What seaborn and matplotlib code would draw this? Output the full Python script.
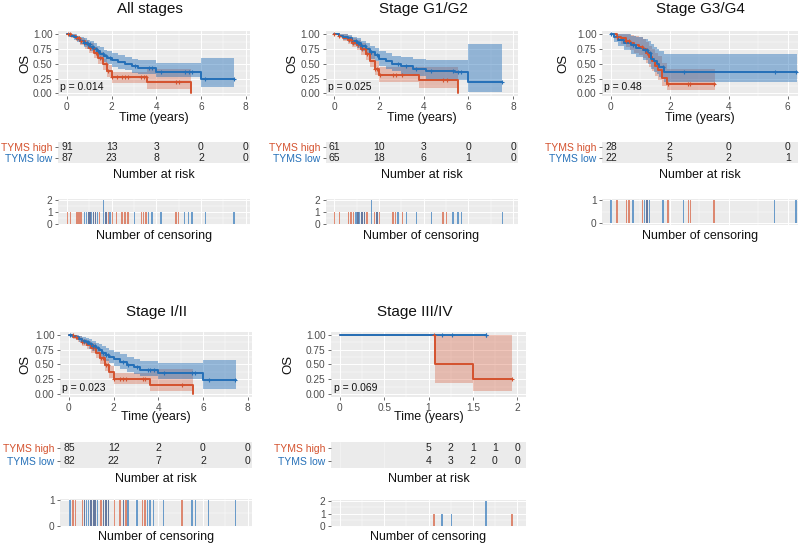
import numpy as np
import matplotlib
matplotlib.use("Agg")
import matplotlib.pyplot as plt
import seaborn as sns
from matplotlib.ticker import MultipleLocator

# ---------------- DATA ----------------
GROUPS = ["TYMS high", "TYMS low"]
TITLES = ["All stages", "Stage G1/G2", "Stage G3/G4", "Stage I/II", "Stage III/IV"]
PVALUES = ["p = 0.014", "p = 0.025", "p = 0.48", "p = 0.023", "p = 0.069"]

# All stages
ALL_T_LOW = [0, 0.15, 0.3, 0.45, 0.6, 0.75, 0.9, 1.05, 1.2, 1.35, 1.5, 1.65, 1.8, 2.0, 2.3, 2.6, 2.9, 3.2, 4.0, 6.0, 7.5]
ALL_S_LOW = [1.0, 0.98, 0.95, 0.92, 0.89, 0.86, 0.83, 0.79, 0.75, 0.71, 0.67, 0.63, 0.60, 0.56, 0.53, 0.50, 0.46, 0.43, 0.37, 0.25, 0.25]
ALL_LO_LOW = [1.0, 0.95, 0.91, 0.87, 0.83, 0.79, 0.75, 0.71, 0.66, 0.62, 0.57, 0.53, 0.50, 0.45, 0.42, 0.39, 0.35, 0.32, 0.27, 0.10, 0.10]
ALL_HI_LOW = [1.0, 1.0, 1.0, 0.98, 0.96, 0.93, 0.91, 0.88, 0.85, 0.81, 0.78, 0.74, 0.71, 0.68, 0.65, 0.62, 0.59, 0.56, 0.52, 0.60, 0.60]
ALL_T_HIGH = [0, 0.2, 0.4, 0.6, 0.8, 1.0, 1.2, 1.4, 1.6, 1.8, 2.0, 3.6, 5.55]
ALL_S_HIGH = [1.0, 0.97, 0.93, 0.88, 0.83, 0.77, 0.69, 0.60, 0.49, 0.38, 0.27, 0.19, 0.0]
ALL_LO_HIGH = [1.0, 0.94, 0.88, 0.82, 0.76, 0.69, 0.60, 0.50, 0.39, 0.28, 0.18, 0.08, 0.0]
ALL_HI_HIGH = [1.0, 1.0, 0.98, 0.94, 0.90, 0.85, 0.78, 0.70, 0.59, 0.48, 0.37, 0.42, 0.0]
ALL_CENS_HIGH = [0.03, 0.15, 0.45, 0.54, 0.63, 0.96, 1.03, 1.18, 1.29, 1.47, 1.74, 1.86, 2.04, 2.23, 2.46, 2.61, 2.73, 3.33, 3.43, 3.54, 4.88, 5.0]
ALL_CENS_LOW = [0.78, 0.88, 0.96, 1.03, 1.11, 1.18, 1.29, 1.38, 1.63, 1.63, 1.74, 1.93, 3.03, 3.66, 3.81, 4.22, 5.27, 5.45, 5.6, 6.2, 7.48]
ALL_RISK_T = [0, 2, 4, 6, 8]
ALL_RISK_HIGH = [91, 13, 3, 0, 0]
ALL_RISK_LOW = [87, 23, 8, 2, 0]

# Stage G1/G2
G12_T_LOW = [0, 0.2, 0.4, 0.6, 0.8, 1.0, 1.2, 1.4, 1.6, 1.8, 2.0, 2.3, 2.6, 3.0, 3.5, 4.1, 5.4, 6.0, 7.5]
G12_S_LOW = [1.0, 0.98, 0.96, 0.93, 0.89, 0.85, 0.80, 0.75, 0.70, 0.65, 0.58, 0.54, 0.50, 0.46, 0.42, 0.38, 0.36, 0.19, 0.19]
G12_LO_LOW = [1.0, 0.95, 0.91, 0.87, 0.82, 0.77, 0.71, 0.65, 0.59, 0.54, 0.46, 0.42, 0.38, 0.33, 0.29, 0.24, 0.22, 0.03, 0.03]
G12_HI_LOW = [1.0, 1.0, 1.0, 0.99, 0.96, 0.93, 0.89, 0.85, 0.81, 0.77, 0.71, 0.68, 0.64, 0.61, 0.58, 0.56, 0.57, 0.83, 0.83]
G12_T_HIGH = [0, 0.2, 0.4, 0.6, 0.8, 1.0, 1.2, 1.4, 1.6, 1.8, 2.0, 3.8, 5.55]
G12_S_HIGH = [1.0, 0.97, 0.94, 0.90, 0.86, 0.82, 0.75, 0.67, 0.55, 0.42, 0.31, 0.22, 0.0]
G12_LO_HIGH = [1.0, 0.93, 0.88, 0.83, 0.78, 0.73, 0.65, 0.56, 0.44, 0.31, 0.20, 0.09, 0.0]
G12_HI_HIGH = [1.0, 1.0, 1.0, 0.97, 0.94, 0.91, 0.86, 0.79, 0.68, 0.55, 0.44, 0.45, 0.0]
G12_CENS_HIGH = [0.0, 0.22, 0.64, 0.75, 0.85, 1.06, 1.24, 1.35, 1.45, 1.8, 1.9, 2.02, 2.62, 2.74, 3.04, 4.87, 5.02]
G12_CENS_LOW = [0.97, 1.06, 1.12, 1.24, 1.35, 1.66, 1.66, 1.9, 2.85, 3.22, 3.67, 4.34, 5.32, 5.54, 5.69, 7.52]
G12_RISK_T = [0, 2, 4, 6, 8]
G12_RISK_HIGH = [61, 10, 3, 0, 0]
G12_RISK_LOW = [65, 18, 6, 1, 0]

# Stage G3/G4
G34_T_LOW = [0, 0.1, 0.25, 0.45, 0.7, 0.85, 1.1, 1.25, 1.35, 1.45, 1.55, 1.65, 1.8, 6.3]
G34_S_LOW = [1.0, 0.95, 0.91, 0.86, 0.82, 0.77, 0.73, 0.68, 0.59, 0.55, 0.50, 0.45, 0.37, 0.37]
G34_LO_LOW = [1.0, 0.87, 0.80, 0.73, 0.67, 0.61, 0.56, 0.50, 0.41, 0.37, 0.32, 0.27, 0.19, 0.19]
G34_HI_LOW = [1.0, 1.0, 1.0, 1.0, 0.98, 0.95, 0.92, 0.89, 0.83, 0.79, 0.76, 0.72, 0.67, 0.67]
G34_T_HIGH = [0, 0.2, 0.35, 0.5, 0.65, 0.8, 0.95, 1.1, 1.2, 1.3, 1.4, 1.5, 1.6, 1.75, 1.9, 3.55]
G34_S_HIGH = [1.0, 0.96, 0.93, 0.89, 0.86, 0.82, 0.79, 0.75, 0.68, 0.61, 0.54, 0.46, 0.39, 0.26, 0.15, 0.15]
G34_LO_HIGH = [1.0, 0.89, 0.84, 0.78, 0.74, 0.69, 0.65, 0.60, 0.52, 0.45, 0.38, 0.30, 0.23, 0.13, 0.06, 0.06]
G34_HI_HIGH = [1.0, 1.0, 1.0, 1.0, 0.99, 0.97, 0.95, 0.92, 0.87, 0.81, 0.75, 0.69, 0.63, 0.52, 0.41, 0.41]
G34_CENS_HIGH = [0.21, 0.53, 0.61, 1.07, 1.23, 1.94, 2.63, 2.7, 3.5]
G34_CENS_LOW = [0.0, 0.76, 1.15, 1.23, 1.32, 1.77, 2.47, 5.56, 6.29]
G34_RISK_T = [0, 2, 4, 6]
G34_RISK_HIGH = [28, 2, 0, 0]
G34_RISK_LOW = [22, 5, 2, 1]

# Stage I/II
S12_T_LOW = [0, 0.15, 0.3, 0.45, 0.6, 0.75, 0.9, 1.05, 1.2, 1.35, 1.5, 1.65, 1.8, 2.0, 2.3, 2.6, 2.9, 3.2, 4.0, 6.0, 7.5]
S12_S_LOW = [1.0, 0.98, 0.96, 0.93, 0.90, 0.88, 0.85, 0.81, 0.78, 0.74, 0.70, 0.66, 0.63, 0.59, 0.54, 0.49, 0.45, 0.41, 0.36, 0.23, 0.23]
S12_LO_LOW = [1.0, 0.95, 0.92, 0.88, 0.84, 0.81, 0.77, 0.73, 0.69, 0.65, 0.60, 0.56, 0.52, 0.48, 0.43, 0.38, 0.34, 0.30, 0.25, 0.08, 0.08]
S12_HI_LOW = [1.0, 1.0, 1.0, 0.99, 0.97, 0.95, 0.93, 0.90, 0.87, 0.84, 0.81, 0.78, 0.75, 0.71, 0.67, 0.62, 0.59, 0.56, 0.53, 0.57, 0.57]
S12_T_HIGH = [0, 0.2, 0.4, 0.6, 0.8, 1.0, 1.2, 1.4, 1.6, 1.8, 2.0, 3.65, 5.55]
S12_S_HIGH = [1.0, 0.97, 0.93, 0.88, 0.83, 0.78, 0.70, 0.61, 0.49, 0.38, 0.26, 0.16, 0.0]
S12_LO_HIGH = [1.0, 0.94, 0.88, 0.82, 0.76, 0.70, 0.61, 0.51, 0.39, 0.28, 0.17, 0.06, 0.0]
S12_HI_HIGH = [1.0, 1.0, 0.98, 0.94, 0.90, 0.86, 0.79, 0.71, 0.59, 0.48, 0.36, 0.42, 0.0]
S12_CENS_HIGH = [0.19, 0.3, 0.6, 0.69, 0.99, 1.09, 1.17, 1.44, 1.54, 1.65, 1.77, 2.04, 2.29, 2.44, 2.55, 3.3, 3.41, 5.06]
S12_CENS_LOW = [0.04, 0.69, 0.79, 0.87, 0.99, 1.09, 1.17, 1.29, 1.54, 1.65, 1.77, 2.44, 2.64, 3.04, 3.53, 3.64, 3.79, 4.24, 5.51, 5.66, 6.26, 7.46]
S12_RISK_T = [0, 2, 4, 6, 8]
S12_RISK_HIGH = [85, 12, 2, 0, 0]
S12_RISK_LOW = [82, 22, 7, 2, 0]

# Stage III/IV
S34_T_LOW = [0, 1.65]
S34_S_LOW = [1.0, 1.0]
S34_LO_LOW = [1.0, 1.0]
S34_HI_LOW = [1.0, 1.0]
S34_T_HIGH = [0, 1.07, 1.5, 1.94]
S34_S_HIGH = [1.0, 0.5, 0.25, 0.25]
S34_LO_HIGH = [1.0, 0.18, 0.05, 0.05]
S34_HI_HIGH = [1.0, 1.0, 1.0, 1.0]
S34_CENS_HIGH = [1.06, 1.94]
S34_CENS_LOW = [1.15, 1.26, 1.65, 1.65]
S34_RISK_T = [1.0, 1.25, 1.5, 1.75, 2.0]
S34_RISK_HIGH = [5, 2, 1, 1, 0]
S34_RISK_LOW = [4, 3, 2, 0, 0]

# ---------------- STYLE ----------------
RED = "#D4522E"
BLUE = "#2570B8"
BG = "#EBEBEB"
W, H = 800, 547

sns.set_theme(style="darkgrid", rc={"axes.facecolor": BG, "grid.color": "white"})
plt.rcParams["font.family"] = ["Liberation Sans", "DejaVu Sans"]

fig = plt.figure(figsize=(8, 5.47), dpi=100)
fig.patch.set_facecolor("white")


def rect(x0, y0, x1, y1):
    return [x0 / W, 1 - y1 / H, (x1 - x0) / W, (y1 - y0) / H]


def ftext(x, y, s, **kw):
    fig.text(x / W, 1 - y / H, s, ha="center", va="center", **kw)


def style_axes(ax):
    for sp in ax.spines.values():
        sp.set_visible(False)
    ax.set_facecolor(BG)
    ax.tick_params(which="major", length=2.5, width=0.5, color="#333333",
                   labelsize=7.3, labelcolor="#4D4D4D", pad=1.5,
                   bottom=True, left=True)
    ax.tick_params(which="minor", length=0, bottom=False, left=False)
    ax.grid(which="major", color="white", lw=0.7)
    ax.grid(which="minor", color="white", lw=0.35)
    ax.set_axisbelow(True)
    ax.set_xlabel("")
    ax.set_ylabel("")


def step_value(t, s, c):
    t = np.asarray(t)
    idx = np.clip(np.searchsorted(t, c, side="right") - 1, 0, len(t) - 1)
    return np.asarray(s)[idx]


PANELS = [
    dict(title=TITLES[0], p=PVALUES[0],
         low=(ALL_T_LOW, ALL_S_LOW, ALL_LO_LOW, ALL_HI_LOW, ALL_CENS_LOW, ALL_RISK_LOW),
         high=(ALL_T_HIGH, ALL_S_HIGH, ALL_LO_HIGH, ALL_HI_HIGH, ALL_CENS_HIGH, ALL_RISK_HIGH),
         risk_t=ALL_RISK_T),
    dict(title=TITLES[1], p=PVALUES[1],
         low=(G12_T_LOW, G12_S_LOW, G12_LO_LOW, G12_HI_LOW, G12_CENS_LOW, G12_RISK_LOW),
         high=(G12_T_HIGH, G12_S_HIGH, G12_LO_HIGH, G12_HI_HIGH, G12_CENS_HIGH, G12_RISK_HIGH),
         risk_t=G12_RISK_T),
    dict(title=TITLES[2], p=PVALUES[2],
         low=(G34_T_LOW, G34_S_LOW, G34_LO_LOW, G34_HI_LOW, G34_CENS_LOW, G34_RISK_LOW),
         high=(G34_T_HIGH, G34_S_HIGH, G34_LO_HIGH, G34_HI_HIGH, G34_CENS_HIGH, G34_RISK_HIGH),
         risk_t=G34_RISK_T),
    dict(title=TITLES[3], p=PVALUES[3],
         low=(S12_T_LOW, S12_S_LOW, S12_LO_LOW, S12_HI_LOW, S12_CENS_LOW, S12_RISK_LOW),
         high=(S12_T_HIGH, S12_S_HIGH, S12_LO_HIGH, S12_HI_HIGH, S12_CENS_HIGH, S12_RISK_HIGH),
         risk_t=S12_RISK_T),
    dict(title=TITLES[4], p=PVALUES[4],
         low=(S34_T_LOW, S34_S_LOW, S34_LO_LOW, S34_HI_LOW, S34_CENS_LOW, S34_RISK_LOW),
         high=(S34_T_HIGH, S34_S_HIGH, S34_LO_HIGH, S34_HI_HIGH, S34_CENS_HIGH, S34_RISK_HIGH),
         risk_t=S34_RISK_T),
]

# layout (pixel geometry)
LAYOUT = [
    dict(x0=58, x1=250, km=(31.4, 96.3), risk=(142, 163), cens=(198.8, 225.2), cyl=(-0.1, 2.1), cyt=[0, 1, 2],
         xlim=(-0.4, 8.2), xt=[0, 2, 4, 6, 8], xtl=["0", "2", "4", "6", "8"], xminor=1.0,
         ttl=(150, 9), os_x=25, lab_y=(118, 175, 236), rly=(-0.45, 1.45)),
    dict(x0=325.5, x1=517.5, km=(31.4, 96.3), risk=(142, 163), cens=(198.8, 225.2), cyl=(-0.1, 2.1), cyt=[0, 1, 2],
         xlim=(-0.4, 8.2), xt=[0, 2, 4, 6, 8], xtl=["0", "2", "4", "6", "8"], xminor=1.0,
         ttl=(423, 9), os_x=292, lab_y=(118, 175, 236), rly=(-0.45, 1.45)),
    dict(x0=602, x1=798, km=(31.4, 96.3), risk=(142, 163), cens=(198.5, 224.5), cyl=(-0.05, 1.05), cyt=[0, 1],
         xlim=(-0.3, 6.35), xt=[0, 2, 4, 6], xtl=["0", "2", "4", "6"], xminor=1.0,
         ttl=(700, 9), os_x=563, lab_y=(118, 175, 236), rly=(-0.45, 1.45)),
    dict(x0=60, x1=252, km=(332, 397), risk=(442, 468), cens=(498.7, 527.3), cyl=(-0.05, 1.05), cyt=[0, 1],
         xlim=(-0.4, 8.2), xt=[0, 2, 4, 6, 8], xtl=["0", "2", "4", "6", "8"], xminor=1.0,
         ttl=(157, 312), os_x=25, lab_y=(417, 479, 537), rly=(-0.59, 1.51)),
    dict(x0=331, x1=526, km=(332, 397), risk=(442, 468), cens=(499.8, 527.2), cyl=(-0.1, 2.1), cyt=[0, 1, 2],
         xlim=(-0.1, 2.1), xt=[0, 0.5, 1, 1.5, 2], xtl=["0", "0.5", "1", "1.5", "2"], xminor=0.25,
         ttl=(415, 312), os_x=288, lab_y=(417, 479, 537), rly=(-0.59, 1.51)),
]

for d, L in zip(PANELS, LAYOUT):
    x0, x1 = L["x0"], L["x1"]
    xc = (x0 + x1) / 2
    px_per_unit = (x1 - x0) / (L["xlim"][1] - L["xlim"][0])

    # ---- KM plot ----
    ax = fig.add_axes(rect(x0, L["km"][0], x1, L["km"][1]))
    for key, col, a in (("high", RED, 0.32), ("low", BLUE, 0.45)):
        t, s, lo, hi, cens, _ = d[key]
        ax.fill_between(t, lo, hi, step="post", color=col, alpha=a, lw=0, zorder=2)
    for key, col in (("high", RED), ("low", BLUE)):
        t, s, lo, hi, cens, _ = d[key]
        sns.lineplot(x=t, y=s, ax=ax, color=col, lw=1.4, drawstyle="steps-post",
                     estimator=None, sort=False, zorder=3)
        cy = step_value(t, s, np.asarray(cens))
        ax.plot(cens, cy, ls="none", marker="+", ms=3, mew=0.8, color=col, zorder=4)
    ax.set_xlim(*L["xlim"])
    ax.set_ylim(-0.05, 1.05)
    ax.set_xticks(L["xt"])
    ax.set_xticklabels(L["xtl"])
    ax.set_yticks([0, 0.25, 0.5, 0.75, 1.0])
    ax.set_yticklabels(["0.00", "0.25", "0.50", "0.75", "1.00"])
    ax.xaxis.set_minor_locator(MultipleLocator(L["xminor"]))
    ax.yaxis.set_minor_locator(MultipleLocator(0.125))
    style_axes(ax)
    ax.text(L["xlim"][0] + 2.5 / px_per_unit, 0.1, d["p"], ha="left", va="center",
            fontsize=7.5, color="#111111", zorder=5)

    ftext(L["ttl"][0], L["ttl"][1], d["title"], fontsize=11, color="#111111")
    ftext(L["os_x"], (L["km"][0] + L["km"][1]) / 2, "OS", fontsize=9.5, rotation=90, color="#111111")
    ftext(xc, L["lab_y"][0], "Time (years)", fontsize=9, color="#111111")
    ftext(xc, L["lab_y"][1], "Number at risk", fontsize=9, color="#111111")
    ftext(xc, L["lab_y"][2], "Number of censoring", fontsize=9, color="#111111")

    # ---- risk table ----
    axr = fig.add_axes(rect(x0, L["risk"][0], x1, L["risk"][1]))
    axr.set_xlim(*L["xlim"])
    axr.set_ylim(*L["rly"])
    for key, yy in (("high", 1), ("low", 0)):
        nums = d[key][5]
        for tt, n in zip(d["risk_t"], nums):
            axr.text(tt, yy, str(n), ha="center", va="center", fontsize=7.5, color="#222222")
    axr.set_xticks(L["xt"])
    axr.set_xticklabels([])
    axr.set_yticks([1, 0])
    axr.set_yticklabels(GROUPS)
    style_axes(axr)
    axr.tick_params(axis="x", length=0)
    axr.grid(axis="y", visible=False)
    axr.grid(which="minor", visible=False)
    axr.grid(axis="x", which="major", color="white", lw=0.4, alpha=0.6)
    axr.tick_params(axis="y", labelsize=7.5)
    for lab, col in zip(axr.get_yticklabels(), (RED, BLUE)):
        lab.set_color(col)

    # ---- censoring ----
    axc = fig.add_axes(rect(x0, L["cens"][0], x1, L["cens"][1]))
    bw = 1.5 / px_per_unit
    for key, col in (("high", RED), ("low", BLUE)):
        times, counts = np.unique(np.asarray(d[key][4]), return_counts=True)
        axc.bar(times, counts, width=bw, color=col, alpha=0.65, lw=0, zorder=2)
    axc.set_xlim(*L["xlim"])
    axc.set_ylim(*L["cyl"])
    axc.set_xticks(L["xt"])
    axc.set_xticklabels([])
    axc.set_yticks(L["cyt"])
    axc.set_yticklabels([str(v) for v in L["cyt"]])
    axc.xaxis.set_minor_locator(MultipleLocator(L["xminor"]))
    axc.yaxis.set_minor_locator(MultipleLocator(0.5))
    style_axes(axc)
    axc.tick_params(axis="x", length=0)

fig.savefig("out.png", dpi=100, facecolor="white")
